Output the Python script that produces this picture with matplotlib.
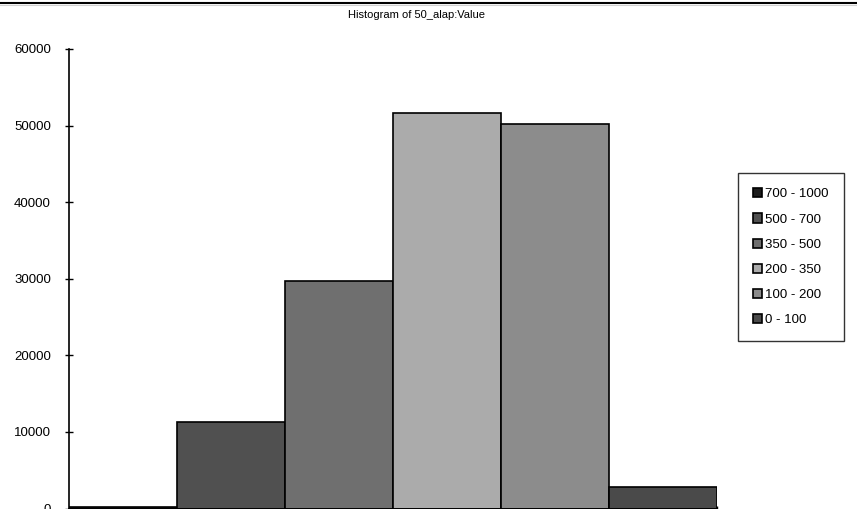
import matplotlib.pyplot as plt
from matplotlib.lines import Line2D

plt.rcParams['font.family'] = ['Liberation Sans', 'DejaVu Sans']

# data
ranges = ["700 - 1000", "500 - 700", "350 - 500", "200 - 350", "100 - 200", "0 - 100"]
counts = [200, 11250, 29700, 51600, 50150, 2750]
colors = ["#1c1c1c", "#505050", "#6f6f6f", "#ababab", "#8c8c8c", "#4a4a4a"]
yticks = [0, 10000, 20000, 30000, 40000, 50000, 60000]

fig = plt.figure(figsize=(8.57, 5.09), dpi=100)
ax = fig.add_axes([69 / 857, 0.5 / 509, 648 / 857, 459.5 / 509])

handles = []
for i, (lab, c, col) in enumerate(zip(ranges, counts, colors)):
    b = ax.bar(i, c, width=1.0, align="edge", color=col, edgecolor="black", linewidth=1.2, label=lab)
    handles.append(b)

ax.set_xlim(0, len(ranges))
ax.set_ylim(0, 60000)
ax.set_yticks(yticks)
ax.set_yticklabels([str(t) for t in yticks], fontsize=9.5)
ax.set_xticks([len(ranges)])
ax.set_xticklabels([""])
ax.tick_params(axis="y", direction="inout", length=6, width=1, pad=10)
ax.tick_params(axis="x", direction="inout", length=4, width=1)
ax.spines["top"].set_visible(False)
ax.spines["right"].set_visible(False)
for s in ("left", "bottom"):
    ax.spines[s].set_linewidth(1.2)

fig.text(417 / 857, 1 - 15 / 509, "Histogram of 50_alap:Value", ha="center", va="center", fontsize=8)

leg = fig.legend(handles=handles, loc="upper left", bbox_to_anchor=(738 / 857, 1 - 173 / 509),
                 fontsize=9.5, frameon=True, fancybox=False, edgecolor="black",
                 handlelength=0.7, handleheight=0.7, handletextpad=0.2,
                 labelspacing=0.98, borderpad=1.15, borderaxespad=0)
leg.get_frame().set_linewidth(1.0)

# frame line across the top
fig.add_artist(Line2D([0, 1], [1 - 3 / 509, 1 - 3 / 509], color="black", linewidth=1.5))
fig.add_artist(Line2D([0, 1], [1 - 5 / 509, 1 - 5 / 509], color="#d0d0d0", linewidth=0.8))

fig.savefig("out.png", dpi=100)
